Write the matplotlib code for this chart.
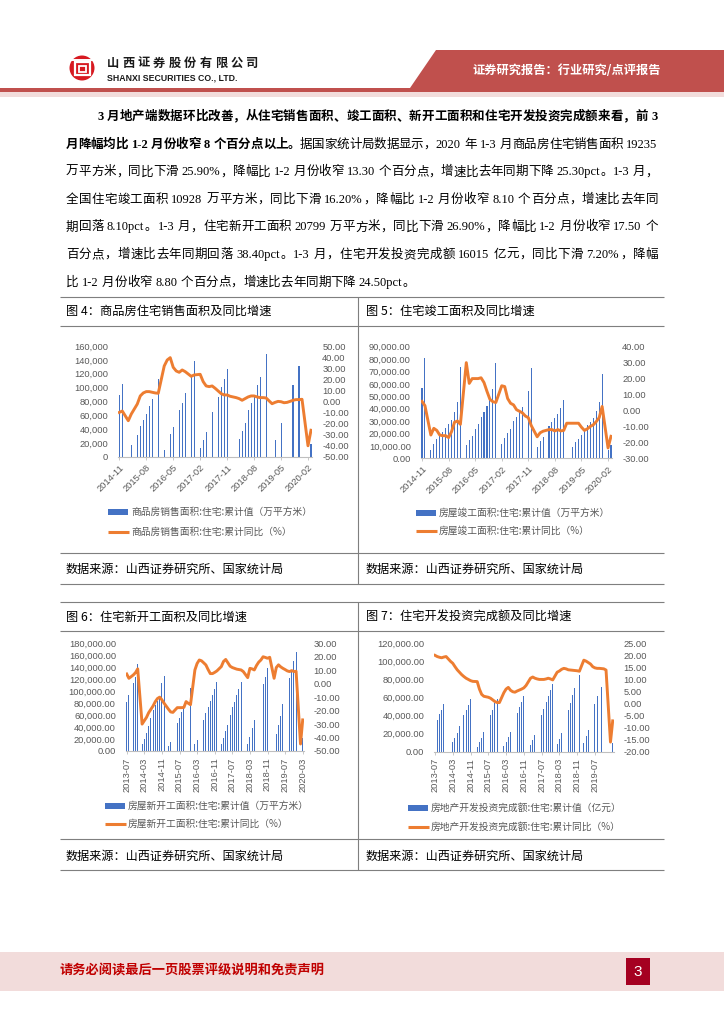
import matplotlib
matplotlib.use('Agg')
import matplotlib.pyplot as plt
from matplotlib.patches import Rectangle, Polygon, Ellipse
from matplotlib.lines import Line2D
import numpy as np

W, H = 724, 1024
CJK = ['Noto Sans CJK SC', 'DejaVu Sans']
SERIF_CJK = ['Liberation Serif', 'Noto Sans CJK SC']
NUMF = ['Liberation Sans', 'DejaVu Sans']
plt.rcParams['font.family'] = CJK

BLUE = '#4472C4'
ORANGE = '#ED7D31'
GREY = '#595959'

# ------------------------------------------------------------------ data
def month_range(y0, m0, y1, m1):
    out = []
    y, m = y0, m0
    while (y, m) <= (y1, m1):
        out.append(f"{y}-{m:02d}")
        m += 1
        if m > 12:
            m = 1
            y += 1
    return out

cats_a = month_range(2014, 11, 2020, 3)   # charts 4, 5
cats_b = month_range(2013, 7, 2020, 3)    # charts 6, 7
N = None

# Figure 4: residential sales area (cumulative, 10k m2) and YoY (%)
sales_area = ([89400, 105200] +
              [N, N, 17300, N, 31700, 44700, 52900, 62000, 73500, 83600, N, 112400] +
              [N, 10600, N, 33200, 43200, N, 67700, 77800, 92200, N, 117200, 137900] +
              [N, 13000, 24500, 36500, N, 65300, N, 86500, 100400, 112400, 126400, N] +
              [N, N, 26400, 37000, 49000, 67700, 77800, 86500, 103800, 115800, N, 148500] +
              [N, N, 24500, N, 48500, N, N, N, 103800, N, 131200, N] +
              [N, N, 19200])
sales_yoy = ([-9.8, -8.6] +
             [N, -17.3, -11.3, -6.8, -2.3, 5.0, 7.7, 8.9, 8.9, 8.3, 7.7, 7.4] +
             [N, 32.0, 37.4, 39.5, 30.8, 27.5, 26.3, 28.4, 26.9, 24.8, 22.7, 23.9] +
             [N, 24.5, 17.9, 14.0, 13.4, 14.0, 11.9, 9.5, 7.1, 5.9, 5.9, 4.7] +
             [N, 3.5, 2.6, 1.1, 2.6, 4.1, 5.0, 5.0, 4.1, 3.5, 3.5, 3.2] +
             [N, -2.0, -0.8, 0.1, -0.2, -1.1, -0.8, 0.1, 1.1, 1.7, 1.7, 2.0] +
             [N, -39.9, -25.9])

# Figure 5: residential completions
compl_area = ([56500, 80500] +
              [N, 6700, 11600, 15300, 18000, 21500, 24500, 28000, 31000, 37600, 45000, 74000] +
              [N, 10500, 14500, 18000, 23500, 28000, 33500, 37000, 42000, 48000, 55500, 77000] +
              [N, 11600, 16000, 20000, 24000, 30000, 33000, 37000, 41600, N, 54000, 72500] +
              [N, 8900, 14000, 17200, N, 26300, 29000, 32500, 35700, 40800, 47000, N] +
              [N, 8900, 12900, 15600, 18800, 22800, 26900, 29000, 32800, 38100, 45700, 68000] +
              [N, 6700, 10700])
compl_yoy = ([5.7, 3.0] +
             [N, -15.4, -11.2, -12.5, -15.4, -15.8, -15.8, -17.0, -13.3, -7.4, -6.6, -8.7] +
             [N, 30.0, 17.0, 20.0, 20.0, 20.0, 20.5, 17.5, 12.0, 7.0, 5.5, 5.0] +
             [N, 15.5, 15.0, 7.5, 4.5, 3.5, 0.5, -0.5, -1.5, -3.5, -4.5, -9.5] +
             [N, -16.5, -14.0, -13.0, -12.5, -12.0, -12.0, -12.8, -12.0, -12.8, -12.5, -8.0] +
             [N, -8.0, -8.0, -8.0, -10.5, -12.5, -11.5, -10.0, -9.0, -7.0, -4.5, 2.5] +
             [N, -23.5, -16.2])

# Figure 6: residential new starts
starts_area = ([82400, 93600, N, 114000, 124000, 145000] +
               [N, 11700, 20000, 29500, 42000, 55700, 68500, 76900, 84000, 90800, 113000, 124800] +
               [N, 8900, 14500, N, N, 46000, 55700, 64600, 74000, N, N, 106000] +
               [N, 11000, 18400, N, N, 51800, 63000, 74000, 83600, 93600, 103600, 114800] +
               [N, 11700, 22300, 34000, 43500, 60200, 73000, 82500, 93600, 103700, 116000, N] +
               [N, 11700, 24000, 38000, 51800, N, N, N, 112000, 123000, 138000, N] +
               [N, N, 28400, 43500, 58500, 78000, N, N, 122600, 135000, 150000, 166000] +
               [N, N, 21000])
starts_yoy = ([7.2, 4.0, 5.2, 6.5, 8.2, 11.0] +
              [N, -30.0, -27.5, -25.0, -21.5, -19.0, -16.5, -13.3, -11.0, -10.0, -12.0, -14.5] +
              [N, -19.0, -21.0, -21.3, -19.5, -17.8, -17.8, -17.8, -17.6, -13.3, -14.6, -15.6] +
              [N, 10.2, 15.0, 17.6, 17.0, 15.5, 13.9, 10.5, 7.5, 7.5, 8.4, 9.5] +
              [N, 12.7, 16.5, 18.0, 15.5, 13.0, 12.0, 11.4, 10.8, 10.5, 10.2, 9.0] +
              [N, 4.5, 11.4, 11.0, 10.2, 13.5, 16.0, 17.6, 20.0, 19.5, 18.9, 19.6] +
              [N, 4.0, 12.0, 14.0, 12.5, 11.4, 10.5, 9.5, 9.0, 9.7, 9.0, 9.2] +
              [N, -44.8, -26.9])

# Figure 7: residential development investment (100m yuan)
invest_amt = ([29500, 35000, 41400, 46000, 52400, N] +
              [N, N, 10300, 14800, 20300, 28800, N, 40600, 46000, 51700, 58300, N] +
              [N, 5500, 10300, 14800, 21400, N, N, 40600, 46000, 53500, 58300, N] +
              [N, 6300, 11000, 15900, 22200, N, N, 43200, 49800, 55400, 62000, N] +
              [N, 7400, 12900, 18500, N, N, 40600, 47300, 55400, 62000, 68300, 74600] +
              [N, 8100, 14000, 20300, N, N, 46000, 53500, 62800, 70900, N, 85000] +
              [N, 9200, 17700, 24000, N, N, 53000, 62000, N, 72000, N, N] +
              [N, N, 9200])
invest_yoy = ([20.0, 19.5, 19.2, 19.0, 19.3, 19.5] +
              [N, 17.5, 16.7, 15.3, 14.0, 13.0, 12.0, 11.2, 10.5, 10.0, 9.5, 9.2] +
              [N, 9.1, 6.0, 3.8, 3.0, 2.8, 2.6, 2.2, 1.5, 0.8, 0.4, 0.4] +
              [N, 4.5, 6.0, 6.7, 5.5, 4.9, 4.7, 5.2, 5.6, 6.0, 6.5, 7.5] +
              [N, 10.5, 11.0, 10.5, 10.2, 10.0, 10.0, 10.0, 10.2, 10.5, 10.2, 9.8] +
              [N, 13.0, 13.5, 14.2, 14.6, 14.4, 14.0, 13.9, 13.8, 13.7, 13.6, 13.4] +
              [N, 18.0, 17.6, 17.0, 16.4, 15.3, 14.8, 14.6, 14.6, 14.5, 14.4, 13.9] +
              [N, -16.0, -7.2])

titles = ["图 4：商品房住宅销售面积及同比增速", "图 5：住宅竣工面积及同比增速",
          "图 6：住宅新开工面积及同比增速", "图 7：住宅开发投资完成额及同比增速"]
legend_texts = [
    ["商品房销售面积:住宅:累计值（万平方米）", "商品房销售面积:住宅:累计同比（%）"],
    ["房屋竣工面积:住宅:累计值（万平方米）", "房屋竣工面积:住宅:累计同比（%）"],
    ["房屋新开工面积:住宅:累计值（万平方米）", "房屋新开工面积:住宅:累计同比（%）"],
    ["房地产开发投资完成额:住宅:累计值（亿元）", "房地产开发投资完成额:住宅:累计同比（%）"],
]
source_text = "数据来源：山西证券研究所、国家统计局"

body_lines = [
    (97, [("3 月地产端数据环比改善，从住宅销售面积、竣工面积、新开工面积和住宅开发投资完成额来看，前 3", 'bold')], True),
    (66, [("月降幅均比 1-2 月份收窄 8 个百分点以上。", 'bold'),
          ("据国家统计局数据显示，2020 年 1-3 月商品房住宅销售面积 19235", 'normal')], True),
    (66, [("万平方米，同比下滑 25.90%，降幅比 1-2 月份收窄 13.30 个百分点，增速比去年同期下降 25.30pct。1-3 月，", 'normal')], True),
    (66, [("全国住宅竣工面积 10928 万平方米，同比下滑 16.20%，降幅比 1-2 月份收窄 8.10 个百分点，增速比去年同", 'normal')], True),
    (66, [("期回落 8.10pct。1-3 月，住宅新开工面积 20799 万平方米，同比下滑 26.90%，降幅比 1-2 月份收窄 17.50 个", 'normal')], True),
    (66, [("百分点，增速比去年同期回落 38.40pct。1-3 月，住宅开发投资完成额 16015 亿元，同比下滑 7.20%，降幅", 'normal')], True),
    (66, [("比 1-2 月份收窄 8.80 个百分点，增速比去年同期下降 24.50pct。", 'normal')], False),
]

# ------------------------------------------------------------------ helpers
fig = plt.figure(figsize=(W / 100, H / 100), dpi=100)


def fx(x):
    return x / W


def fy(y):
    return 1 - y / H


def hline(x0, x1, y, color='#7F7F7F', lw=0.8):
    fig.add_artist(Line2D([fx(x0), fx(x1)], [fy(y), fy(y)], transform=fig.transFigure,
                          color=color, lw=lw, solid_capstyle='butt'))


def vline(x, y0, y1, color='#7F7F7F', lw=0.8):
    fig.add_artist(Line2D([fx(x), fx(x)], [fy(y0), fy(y1)], transform=fig.transFigure,
                          color=color, lw=lw, solid_capstyle='butt'))


def rect(x, y, w, h, color):
    fig.add_artist(Rectangle((fx(x), fy(y + h)), w / W, h / H, transform=fig.transFigure,
                             facecolor=color, edgecolor='none'))


TICK_FS = 6.7


def draw_chart(x0, x1, ytop, ybot, cats, bars, yoy, lylim, lystep, lfmt,
               rylim, rystep, lab_idx, rot, bw):
    n = len(cats)
    step = (x1 - x0) / (n - 1)
    m = 0.5
    left, right = x0 - m * step, x1 + m * step
    ax = fig.add_axes([fx(left), fy(ybot), (right - left) / W, (ybot - ytop) / H])
    ax.set_xlim(-m, n - 1 + m)
    ax.set_ylim(*lylim)
    bx = [i for i, v in enumerate(bars) if v is not None]
    ax.bar(bx, [bars[i] for i in bx], width=bw, color=BLUE, linewidth=0)
    ax2 = ax.twinx()
    ax2.set_ylim(*rylim)
    lx = [i for i, v in enumerate(yoy) if v is not None]
    ax2.plot(lx, [yoy[i] for i in lx], color=ORANGE, lw=2.1, solid_joinstyle='round')
    for a in (ax, ax2):
        for s in a.spines.values():
            s.set_visible(False)
        a.patch.set_visible(False)
    ax.spines['bottom'].set_visible(True)
    ax.spines['bottom'].set_color('#BFBFBF')
    ax.spines['bottom'].set_linewidth(0.8)
    ax.set_xticks(lab_idx)
    ax.set_xticklabels([cats[i] for i in lab_idx])
    ax.tick_params(axis='x', length=2.5, width=0.6, color='#BFBFBF', labelsize=TICK_FS,
                   labelcolor=GREY, pad=2)
    for lbl in ax.get_xticklabels():
        lbl.set_fontfamily(NUMF)
        lbl.set_rotation(rot)
        if rot == 45:
            lbl.set_ha('right')
            lbl.set_va('top')
            lbl.set_rotation_mode('anchor')
        else:
            lbl.set_ha('center')
            lbl.set_va('top')
    lt = np.arange(lylim[0], lylim[1] + 1, lystep)
    ax.set_yticks(lt)
    ax.set_yticklabels([lfmt.format(v) for v in lt])
    ax.tick_params(axis='y', length=0, pad=7, labelsize=TICK_FS, labelcolor=GREY)
    rt = np.arange(rylim[0], rylim[1] + 0.001, rystep)
    ax2.set_yticks(rt)
    ax2.set_yticklabels(["{:.2f}".format(v) for v in rt])
    ax2.tick_params(axis='y', length=0, pad=7, labelsize=TICK_FS, labelcolor=GREY)
    for lbl in ax.get_yticklabels() + ax2.get_yticklabels():
        lbl.set_fontfamily(NUMF)
    return ax


def legend(x, y1, y2, texts):
    rect(x, y1 - 3, 20, 6, BLUE)
    fig.text(fx(x + 23), fy(y1), texts[0], fontsize=7, color=GREY, va='center', ha='left')
    fig.add_artist(Line2D([fx(x), fx(x + 21)], [fy(y2), fy(y2)], transform=fig.transFigure,
                          color=ORANGE, lw=2.2, solid_capstyle='butt'))
    fig.text(fx(x + 23), fy(y2), texts[1], fontsize=7, color=GREY, va='center', ha='left')


# ------------------------------------------------------------------ header
fig.add_artist(Ellipse((fx(82), fy(68)), 25 / W, 25 / H, transform=fig.transFigure,
                       facecolor='#D71A21', edgecolor='none'))
fig.add_artist(Rectangle((fx(74.5), fy(75)), 15 / W, 13 / H, transform=fig.transFigure,
                         facecolor='none', edgecolor='white', lw=1.6))
fig.add_artist(Rectangle((fx(78.5), fy(71.5)), 7 / W, 6 / H, transform=fig.transFigure,
                         facecolor='none', edgecolor='white', lw=1.3))
fig.add_artist(Line2D([fx(70), fx(94)], [fy(60), fy(60)], transform=fig.transFigure,
                      color='white', lw=1.4))
company = "山西证券股份有限公司"
for i, ch in enumerate(company):
    fig.text(fx(107 + i * 15.4), fy(63), ch, fontsize=8.8, fontweight='bold',
             color='#1a1a1a', va='center', ha='left')
fig.text(fx(107), fy(77.5), "SHANXI SECURITIES CO., LTD.", fontsize=6.3, fontweight='bold',
         family=NUMF, color='#1a1a1a', va='center', ha='left')

fig.add_artist(Polygon([[fx(436), fy(50)], [fx(724), fy(50)], [fx(724), fy(88)], [fx(410), fy(88)]],
                       closed=True, transform=fig.transFigure, facecolor='#C0504D', edgecolor='none'))
fig.text(fx(567), fy(70.5), "证券研究报告：行业研究/点评报告", fontsize=8.8, fontweight='bold',
         color='white', va='center', ha='center')
rect(0, 88, 724, 3.5, '#C0504D')
rect(0, 91.5, 724, 5, '#F2DCDB')

# ------------------------------------------------------------------ body text
FS = 9.0
EM = FS * 100 / 72
SP = 0.25 * EM
renderer = fig.canvas.get_renderer()


def tokenize(segs):
    toks = []
    space = False
    for s, w in segs:
        buf = ''
        for ch in s:
            if ch == ' ':
                if buf:
                    toks.append((buf, w, space))
                    buf = ''
                    space = False
                space = True
            elif ord(ch) > 0x2000:
                if buf:
                    toks.append((buf, w, space))
                    buf = ''
                    space = False
                toks.append((ch, w, space))
                space = False
            else:
                buf += ch
        if buf:
            toks.append((buf, w, space))
            space = False
    return toks


for k, (x0, segs, justify) in enumerate(body_lines):
    y = 117 + 27.6 * k
    toks = tokenize(segs)
    objs, widths = [], []
    for t, w, s in toks:
        o = fig.text(0, fy(y), t, fontsize=FS, fontweight=w, family=SERIF_CJK,
                     va='center', ha='left', color='black')
        objs.append(o)
        if ord(t[0]) > 0x2000:
            widths.append(EM)
        else:
            widths.append(o.get_window_extent(renderer).width + 0.5)
    nat = sum(widths) + SP * sum(1 for t in toks if t[2])
    extra = (658 - x0 - nat) / (len(toks) - 1) if justify else 0.0
    x = x0
    for o, wd, t in zip(objs, widths, toks):
        if t[2]:
            x += SP
        o.set_x(fx(x))
        x += wd + extra

# ------------------------------------------------------------------ panels
for (top, tsep, ssep, bot, ty, sy) in [(297, 326, 553, 584, 311.5, 569.5),
                                       (602, 631, 839, 870, 617, 856.5)]:
    hline(60, 664, top)
    hline(60, 664, tsep)
    hline(60, 664, ssep)
    hline(60, 664, bot)
    vline(358, top, bot)
    fig.text(fx(66), fy(sy), source_text, fontsize=8.7, color='black', va='center', ha='left')
    fig.text(fx(366), fy(sy), source_text, fontsize=8.7, color='black', va='center', ha='left')

fig.text(fx(66), fy(311.5), titles[0], fontsize=8.8, color='black', va='center', ha='left')
fig.text(fx(366), fy(311.5), titles[1], fontsize=8.8, color='black', va='center', ha='left')
fig.text(fx(66), fy(617), titles[2], fontsize=8.8, color='black', va='center', ha='left')
fig.text(fx(366), fy(617), titles[3], fontsize=8.8, color='black', va='center', ha='left')

lab_a = list(range(0, len(cats_a), 9))
lab_b6 = list(range(0, len(cats_b), 8))
lab_b7 = list(range(0, len(cats_b) - 1, 8))

draw_chart(119.3, 311, 346, 457, cats_a, sales_area, sales_yoy, (0, 160000), 20000, "{:,.0f}",
           (-50, 50), 10, lab_a, 45, 0.36)
draw_chart(422, 611, 346.7, 458.3, cats_a, compl_area, compl_yoy, (0, 90000), 10000, "{:,.2f}",
           (-30, 40), 10, lab_a, 45, 0.36)
draw_chart(126.7, 302.7, 643.3, 751, cats_b, starts_area, starts_yoy, (0, 180000), 20000, "{:,.2f}",
           (-50, 30), 10, lab_b6, 90, 0.45)
draw_chart(435, 612.7, 643.3, 751.7, cats_b, invest_amt, invest_yoy, (0, 120000), 20000, "{:,.2f}",
           (-20, 25), 5, lab_b7, 90, 0.45)

legend(108, 512, 532, legend_texts[0])
legend(416, 513, 531, legend_texts[1])
legend(105, 806, 824, legend_texts[2])
legend(408, 808, 827, legend_texts[3])

# ------------------------------------------------------------------ footer
rect(0, 952, 724, 39, '#F2DCDB')
fig.text(fx(60), fy(971), "请务必阅读最后一页股票评级说明和免责声明", fontsize=9.5, fontweight='bold',
         color='#C00000', va='center', ha='left')
rect(626, 958, 24, 27, '#A50021')
fig.text(fx(638), fy(971.5), "3", fontsize=11, color='white', va='center', ha='center', family=NUMF)

fig.savefig('out.png', dpi=100)
